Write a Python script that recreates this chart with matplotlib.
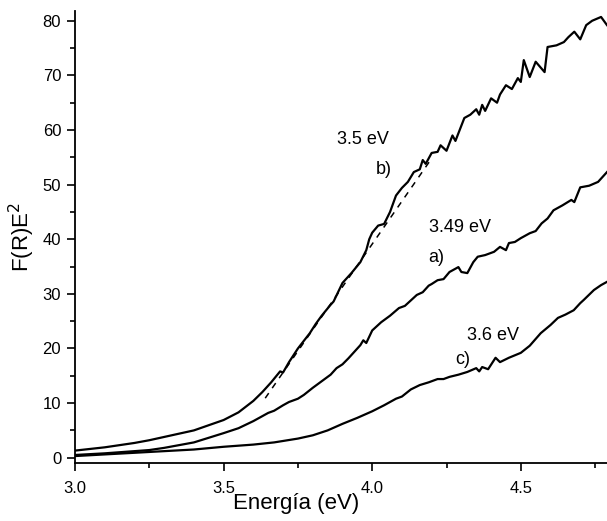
#F(R)E^2 vs energia - ajuste do gap
from matplotlib import pyplot as plt

plt.rcParams['font.family'] = ['Liberation Sans', 'DejaVu Sans']

#dados curva b
xb = [3.00, 3.10, 3.20, 3.25, 3.30, 3.40, 3.50, 3.55, 3.60, 3.63, 3.66, 3.69, 3.70, 3.72,
      3.75, 3.79, 3.81, 3.83, 3.86, 3.87, 3.90, 3.93, 3.96, 3.98, 3.99, 4.00, 4.02, 4.04,
      4.06, 4.08, 4.10, 4.12, 4.14, 4.16, 4.17, 4.18, 4.20, 4.22, 4.23, 4.25, 4.27, 4.28,
      4.30, 4.31, 4.33, 4.35, 4.36, 4.37, 4.38, 4.40, 4.42, 4.43, 4.45, 4.47, 4.49, 4.50,
      4.51, 4.53, 4.55, 4.58, 4.59, 4.62, 4.645, 4.66, 4.68, 4.70, 4.72, 4.74, 4.77, 4.79]
yb = [1.3, 1.9, 2.7, 3.2, 3.8, 5.0, 6.9, 8.3, 10.4, 12.0, 13.8, 15.8, 15.6, 17.5,
      20.0, 22.8, 24.5, 26.0, 28.0, 28.6, 32.0, 33.8, 35.8, 38.0, 40.0, 41.2, 42.5, 42.8,
      45.0, 48.0, 49.4, 50.5, 52.3, 52.8, 54.5, 53.8, 55.8, 56.0, 57.2, 56.2, 59.0, 58.0,
      60.8, 62.2, 62.8, 63.8, 62.8, 64.6, 63.5, 65.8, 65.0, 66.5, 68.2, 67.5, 69.5, 68.8,
      72.8, 69.7, 72.5, 70.6, 75.2, 75.5, 76.1, 77.0, 78.0, 76.6, 79.2, 80.0, 80.7, 79.2]

#dados curva a
xa = [3.00, 3.10, 3.20, 3.25, 3.30, 3.40, 3.50, 3.55, 3.60, 3.65, 3.67, 3.70, 3.72, 3.75,
      3.77, 3.80, 3.83, 3.86, 3.88, 3.90, 3.92, 3.94, 3.96, 3.97, 3.98, 4.00, 4.03, 4.06,
      4.09, 4.11, 4.13, 4.15, 4.17, 4.19, 4.20, 4.22, 4.24, 4.26, 4.29, 4.30, 4.32, 4.34,
      4.355, 4.38, 4.41, 4.43, 4.45, 4.46, 4.48, 4.50, 4.53, 4.55, 4.57, 4.59, 4.61, 4.64,
      4.67, 4.68, 4.70, 4.73, 4.76, 4.79]
ya = [0.5, 0.8, 1.2, 1.4, 1.8, 2.8, 4.5, 5.4, 6.7, 8.2, 8.6, 9.6, 10.2, 10.8,
      11.5, 12.8, 14.0, 15.2, 16.4, 17.1, 18.2, 19.4, 20.6, 21.5, 21.0, 23.3, 24.8, 26.0,
      27.4, 27.8, 28.8, 29.8, 30.3, 31.5, 31.8, 32.5, 32.7, 34.0, 34.9, 34.0, 33.8, 35.8,
      36.8, 37.1, 37.7, 38.6, 38.0, 39.3, 39.5, 40.2, 41.1, 41.5, 42.9, 43.8, 45.3, 46.2,
      47.2, 46.8, 49.5, 49.8, 50.5, 52.3]

#dados curva c
xc = [3.00, 3.10, 3.20, 3.30, 3.40, 3.50, 3.60, 3.67, 3.75, 3.80, 3.85, 3.90, 3.95, 4.00,
      4.04, 4.08, 4.10, 4.13, 4.16, 4.19, 4.22, 4.24, 4.26, 4.29, 4.32, 4.35, 4.36, 4.37,
      4.39, 4.415, 4.43, 4.46, 4.50, 4.53, 4.567, 4.60, 4.625, 4.65, 4.678, 4.70, 4.712,
      4.746, 4.77, 4.79]
yc = [0.3, 0.6, 0.9, 1.2, 1.5, 2.0, 2.4, 2.8, 3.5, 4.1, 5.0, 6.2, 7.3, 8.5,
      9.6, 10.8, 11.2, 12.5, 13.3, 13.8, 14.4, 14.4, 14.8, 15.2, 15.7, 16.4, 15.8, 16.6,
      16.2, 18.3, 17.5, 18.3, 19.2, 20.5, 22.8, 24.3, 25.6, 26.2, 27.0, 28.3, 28.9,
      30.7, 31.6, 32.2]

#ajuste linear (reta tangente) da curva b
x_fit = [3.64, 4.20]
y_fit = [10.9, 54.8]

#rotulos
labels = ['3.5 eV', 'b)', '3.49 eV', 'a)', '3.6 eV', 'c)']
lab_x = [3.883, 4.011, 4.19, 4.19, 4.32, 4.28]
lab_y = [58.2, 52.8, 42.2, 36.6, 22.3, 17.9]

fig = plt.figure(figsize=(6.07, 5.21), dpi=100)
ax = fig.add_axes([0.1236, 0.1107, 0.8764, 0.8683])

ax.plot(xb, yb, 'k-', lw=1.6)
ax.plot(xa, ya, 'k-', lw=1.6)
ax.plot(xc, yc, 'k-', lw=1.6)
ax.plot(x_fit, y_fit, 'k--', lw=1.1, dashes=(4, 4))

for t, x, y in zip(labels, lab_x, lab_y):
    ax.text(x, y, t, fontsize=13, ha='left', va='center')

ax.set_xlim(3.0, 4.79)
ax.set_ylim(-1.03, 81.8)
ax.set_xticks([3.0, 3.5, 4.0, 4.5])
ax.set_xticklabels(['3.0', '3.5', '4.0', '4.5'])
ax.set_xticks([3.25, 3.75, 4.25, 4.75], minor=True)
ax.set_yticks(range(0, 81, 10))
ax.set_yticks(range(5, 80, 10), minor=True)
ax.tick_params(which='major', direction='out', length=6, width=1.2, labelsize=12)
ax.tick_params(which='minor', direction='out', length=3.5, width=1.2)
ax.tick_params(axis='x', pad=7)
ax.tick_params(axis='y', pad=4)

ax.spines['top'].set_visible(False)
ax.spines['right'].set_visible(False)
ax.spines['left'].set_linewidth(1.3)
ax.spines['bottom'].set_linewidth(1.3)

ax.set_xlabel('Energía (eV)', fontsize=16)
ax.xaxis.set_label_coords(0.416, -0.066)
ax.set_ylabel('F(R)E$^2$', fontsize=16)
ax.yaxis.set_label_coords(-0.072, 0.5)

plt.savefig('out.png', dpi=100)
